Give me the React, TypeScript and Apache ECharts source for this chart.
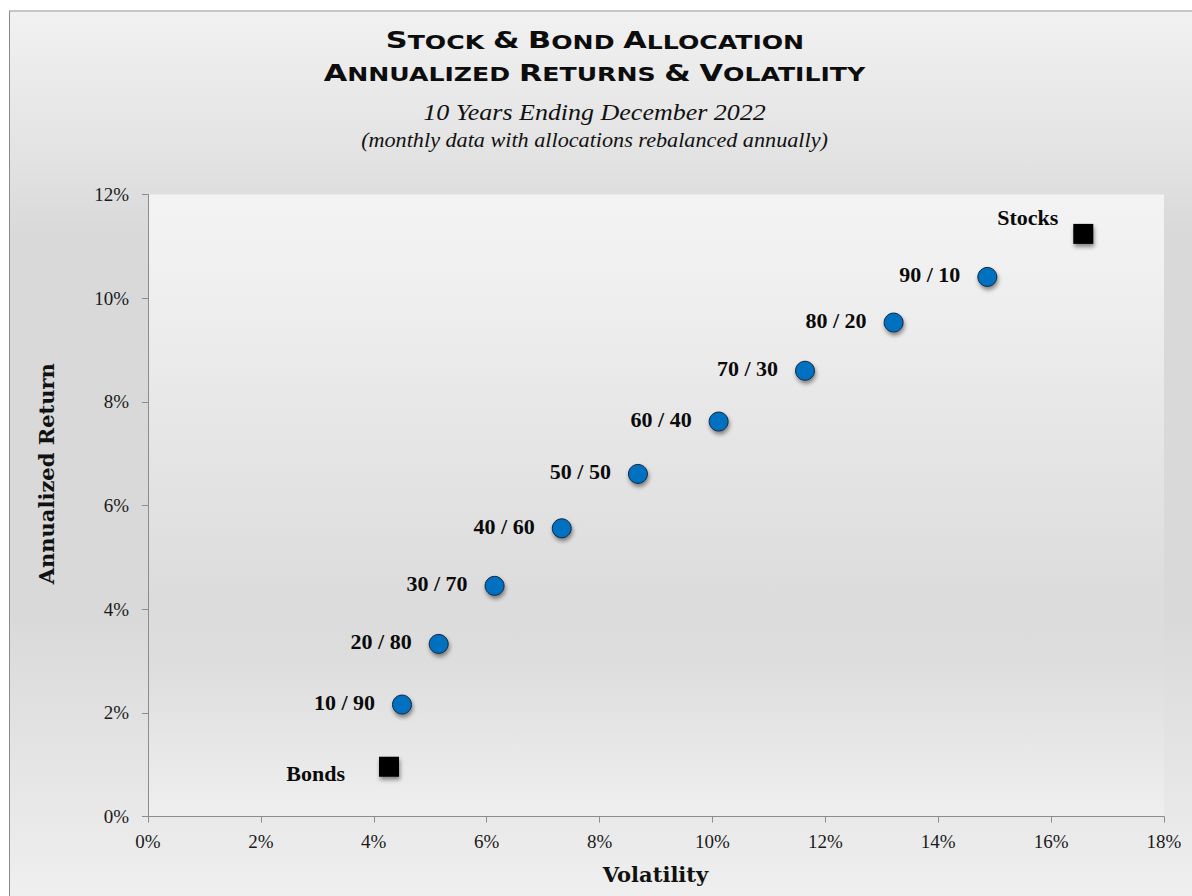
import React, { useEffect, useRef } from "react";
import * as echarts from "echarts";

// ---- Data ----
const allocationLabels = ["10 / 90", "20 / 80", "30 / 70", "40 / 60", "50 / 50", "60 / 40", "70 / 30", "80 / 20", "90 / 10"];
const allocationVolatility = [4.5, 5.15, 6.14, 7.33, 8.68, 10.11, 11.64, 13.21, 14.87];
const allocationReturn = [2.16, 3.33, 4.45, 5.56, 6.61, 7.62, 8.6, 9.53, 10.41];
const stocksPoint = { name: "Stocks", volatility: 16.57, ret: 11.24 };
const bondsPoint = { name: "Bonds", volatility: 4.27, ret: 0.96 };
const xAxisRange = { min: 0, max: 18, interval: 2 };
const yAxisRange = { min: 0, max: 12, interval: 2 };
const titleLine1 = "{b|S}{s|TOCK} {b|&} {b|B}{s|OND} {b|A}{s|LLOCATION}";
const titleLine2 = "{b|A}{s|NNUALIZED} {b|R}{s|ETURNS} {b|&} {b|V}{s|OLATILITY}";
const subtitle1 = "10 Years Ending December 2022";
const subtitle2 = "(monthly data with allocations rebalanced annually)";
const xAxisName = "Volatility";
const yAxisName = "Annualized Return";

const labelFont = {
  fontFamily: "'Liberation Serif', serif",
  fontWeight: "bold" as const,
  fontSize: 22,
  color: "#0a0a0a",
  opacity: 1,
};

const markerShadow = {
  shadowBlur: 4,
  shadowOffsetX: 1,
  shadowOffsetY: 3,
  shadowColor: "rgba(0,0,0,0.45)",
};

export default function App() {
  const ref = useRef<HTMLDivElement>(null);

  useEffect(() => {
    if (!ref.current) return;
    const chart = echarts.init(ref.current, undefined, { renderer: "svg" });

    const richTitle = {
      b: {
        fontFamily: "'DejaVu Sans', sans-serif",
        fontWeight: "bold",
        fontSize: 23.5,
        lineHeight: 24,
        verticalAlign: "bottom",
        fill: "#0d0d0d",
      },
      s: {
        fontFamily: "'DejaVu Sans', sans-serif",
        fontWeight: "bold",
        fontSize: 19.5,
        lineHeight: 20,
        verticalAlign: "bottom",
        fill: "#0d0d0d",
      },
    };

    const option: any = {
      animation: false,
      backgroundColor: "transparent",
      grid: {
        left: 138,
        right: 28,
        top: 182.5,
        bottom: 79.5,
        show: true,
        borderWidth: 0,
        backgroundColor: new echarts.graphic.LinearGradient(0, 0, 0, 1, [
          { offset: 0, color: "#f3f3f3" },
          { offset: 0.1, color: "#f1f1f1" },
          { offset: 0.35, color: "#e7e7e7" },
          { offset: 0.65, color: "#dcdcdc" },
          { offset: 0.75, color: "#dddddd" },
          { offset: 1, color: "#efefef" },
        ]),
      },
      xAxis: {
        type: "value",
        min: xAxisRange.min,
        max: xAxisRange.max,
        interval: xAxisRange.interval,
        splitLine: { show: false },
        axisLine: { show: true, lineStyle: { color: "#8c8c8c", width: 1 } },
        axisTick: { show: true, inside: false, length: 6, lineStyle: { color: "#8c8c8c" } },
        axisLabel: {
          formatter: "{value}%",
          fontFamily: "'Liberation Serif', serif",
          fontSize: 19,
          color: "#1a1a1a",
          margin: 15,
        },
      },
      yAxis: {
        type: "value",
        min: yAxisRange.min,
        max: yAxisRange.max,
        interval: yAxisRange.interval,
        splitLine: { show: false },
        axisLine: { show: true, lineStyle: { color: "#8c8c8c", width: 1 } },
        axisTick: { show: true, inside: false, length: 6, lineStyle: { color: "#8c8c8c" } },
        axisLabel: {
          formatter: "{value}%",
          fontFamily: "'Liberation Serif', serif",
          fontSize: 19,
          color: "#1a1a1a",
          margin: 19,
        },
      },
      series: [
        {
          type: "scatter",
          name: "Allocations",
          symbol: "circle",
          symbolSize: 19,
          data: allocationVolatility.map((v, i) => ({
            value: [v, allocationReturn[i]],
            name: allocationLabels[i],
          })),
          itemStyle: {
            color: "#0070c0",
            borderColor: "#15253f",
            borderWidth: 1,
            opacity: 1,
            ...markerShadow,
          },
          label: {
            show: true,
            position: "left",
            distance: 17,
            offset: [0, -2],
            formatter: (p: any) => p.name,
            ...labelFont,
          },
          emphasis: { disabled: true },
          silent: true,
        },
        {
          type: "scatter",
          name: stocksPoint.name,
          symbol: "rect",
          symbolSize: 20,
          data: [{ value: [stocksPoint.volatility, stocksPoint.ret], name: stocksPoint.name }],
          itemStyle: { color: "#000000", opacity: 1, ...markerShadow },
          label: {
            show: true,
            position: "left",
            distance: 15,
            offset: [0, -16],
            formatter: (p: any) => p.name,
            ...labelFont,
          },
          emphasis: { disabled: true },
          silent: true,
        },
        {
          type: "scatter",
          name: bondsPoint.name,
          symbol: "rect",
          symbolSize: 20,
          data: [{ value: [bondsPoint.volatility, bondsPoint.ret], name: bondsPoint.name }],
          itemStyle: { color: "#000000", opacity: 1, ...markerShadow },
          label: {
            show: true,
            position: "left",
            distance: 34,
            offset: [0, 7],
            formatter: (p: any) => p.name,
            ...labelFont,
          },
          emphasis: { disabled: true },
          silent: true,
        },
      ],
      graphic: [
        {
          type: "text",
          x: 585,
          y: 28,
          scaleX: 1.29,
          silent: true,
          style: {
            text: titleLine1,
            align: "center",
            verticalAlign: "middle",
            fontFamily: "'DejaVu Sans', sans-serif",
            fontWeight: "bold",
            fontSize: 19.5,
            fill: "#0d0d0d",
            rich: richTitle,
          },
        },
        {
          type: "text",
          x: 584.5,
          y: 60.5,
          scaleX: 1.29,
          silent: true,
          style: {
            text: titleLine2,
            align: "center",
            verticalAlign: "middle",
            fontFamily: "'DejaVu Sans', sans-serif",
            fontWeight: "bold",
            fontSize: 19.5,
            fill: "#0d0d0d",
            rich: richTitle,
          },
        },
        {
          type: "text",
          x: 584.5,
          y: 100.5,
          scaleX: 1.13,
          silent: true,
          style: {
            text: subtitle1,
            align: "center",
            verticalAlign: "middle",
            fontFamily: "'Liberation Serif', serif",
            fontStyle: "italic",
            fontSize: 23,
            fill: "#111111",
          },
        },
        {
          type: "text",
          x: 584.5,
          y: 128,
          scaleX: 1.11,
          silent: true,
          style: {
            text: subtitle2,
            align: "center",
            verticalAlign: "middle",
            fontFamily: "'Liberation Serif', serif",
            fontStyle: "italic",
            fontSize: 20,
            fill: "#111111",
          },
        },
        {
          type: "text",
          x: 36,
          y: 461.7,
          rotation: Math.PI / 2,
          silent: true,
          style: {
            text: yAxisName,
            align: "center",
            verticalAlign: "middle",
            fontFamily: "'DejaVu Serif', serif",
            fontWeight: "bold",
            fontSize: 21,
            fill: "#111111",
          },
        },
        {
          type: "text",
          x: 645.5,
          y: 862,
          silent: true,
          style: {
            text: xAxisName,
            align: "center",
            verticalAlign: "middle",
            fontFamily: "'DejaVu Serif', serif",
            fontWeight: "bold",
            fontSize: 21,
            fill: "#111111",
          },
        },
      ],
    };

    chart.setOption(option);
    return () => chart.dispose();
  }, []);

  return (
    <div
      style={{
        position: "fixed",
        left: 9,
        top: 10,
        width: 1183,
        height: 886,
        boxSizing: "border-box",
        borderTop: "2px solid #c6c6c6",
        borderLeft: "1px solid #8a8a8a",
        background:
          "linear-gradient(to bottom, #f1f1f1 0%, #e2e2e2 17%, #d9d9d9 25%, #d9d9d9 68%, #e8e8e8 90%, #efefef 100%)",
      }}
    >
      <div ref={ref} style={{ width: 1182, height: 884 }} />
    </div>
  );
}
